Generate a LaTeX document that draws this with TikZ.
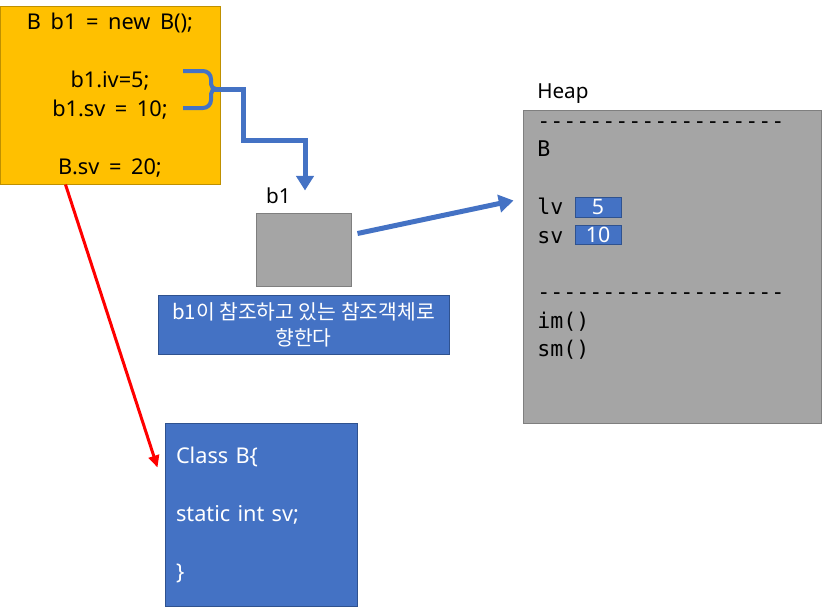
\documentclass[tikz,border=0pt]{standalone}
\usepackage{fontspec}
\setmainfont{Noto Sans}[WordSpace=1.7]
\setmonofont{DejaVu Sans Mono}
\newfontfamily\kofont{Noto Sans CJK KR}
\usetikzlibrary{arrows.meta,calc}
\definecolor{codefill}{HTML}{FFC000}
\definecolor{codeedge}{HTML}{BF9000}
\definecolor{boxblue}{HTML}{4472C4}
\definecolor{blueedge}{HTML}{2F528F}
\definecolor{memgray}{HTML}{A5A5A5}
\definecolor{grayedge}{HTML}{7F7F7F}

\begin{document}
\begin{tikzpicture}[
  x=0.75pt,y=-0.75pt,
  every node/.style={inner sep=0pt},
  code/.style={font=\fontsize{16.3}{21.75}\selectfont},
  src/.style={code,draw=codeedge,fill=codefill,line width=0.75pt,minimum width=165pt,minimum height=133.5pt,align=center},
  ref/.style={draw=grayedge,fill=memgray,line width=0.75pt},
  note/.style={draw=blueedge,fill=boxblue,line width=0.75pt,text=white},
  mem/.style={font=\ttfamily\fontsize{16.2}{20}\selectfont,anchor=base west},
  val/.style={note,minimum width=34.5pt,font=\fontsize{16}{18}\selectfont},
  thickarr/.style={draw=boxblue,line width=3.75pt,-{Triangle[length=11pt,width=13pt]}},
  redarr/.style={draw=red,line width=2.25pt,-{Triangle[length=9pt,width=8pt]}}
]
\useasboundingbox (0,0) rectangle (822,607);

% source code
\node[src] (prog) at (110,95) {B b1 = new B();\\[21.75pt]b1.iv=5;\\b1.sv = 10;\\[21.75pt]B.sv = 20;};
\draw[boxblue,line width=3pt] (183,71) -- (203,71) to[out=0,in=90] (211,79) -- (211,84)
  to[out=-90,in=180] (216,89) to[out=180,in=90] (211,94) -- (211,100) to[out=-90,in=0] (203,108) -- (183,108);
\coordinate (tip) at (214,89);

% reference variable
\node[ref,minimum width=71.25pt,minimum height=54.75pt] (ptr) at (303.5,249.5) {};
\node[code,anchor=base,font=\fontsize{15.5}{18}\selectfont] (ptrname) at (278.5,203) {b1};
\node[note,minimum width=218.25pt,minimum height=44.25pt,align=center,font=\kofont\fontsize{15.3}{19.5}\selectfont] (hint) at (303.5,324.5) {b1이 참조하고 있는 참조객체로\\향한다};

% heap
\node[code,anchor=base west,font=\fontsize{15.5}{18}\selectfont] (heaptitle) at (537,98) {Heap};
\node[ref,minimum width=223.5pt,minimum height=234.75pt] (heap) at (672,266.5) {};
\node[mem] (sep1) at (537,128) {-------------------};
\node[mem] (fname) at (537,156) {B};
\node[mem] (iv) at (537,214) {lv};
\node[mem] (sv) at (537,243) {sv};
\node[mem] (sep2) at (537,299) {-------------------};
\node[mem] (im) at (537,328) {im()};
\node[mem] (sm) at (537,356) {sm()};
\node[val,minimum height=15pt] (ivval) at (598,207) {5};
\node[val,minimum height=14.25pt] (svval) at (598,234.5) {10};

% class area
\node[note,code,minimum width=144pt,minimum height=137.25pt,text width=127.5pt,align=left] (cls) at (261,514.5) {Class B\{\\[21.75pt]static int sv;\\[21.75pt]\}};

\draw[thickarr] (tip) -| (243,140) -| ($(ptr.north)+(1.5,-22)$);
\draw[thickarr] ($(ptr.east)+(6,-16)$) -- ($(heap.west)+(-9,-66)$);
\draw[redarr] ($(prog.south west)+(66,0)$) -- ($(cls.north west)+(-7,45)$);
\end{tikzpicture}
\end{document}
